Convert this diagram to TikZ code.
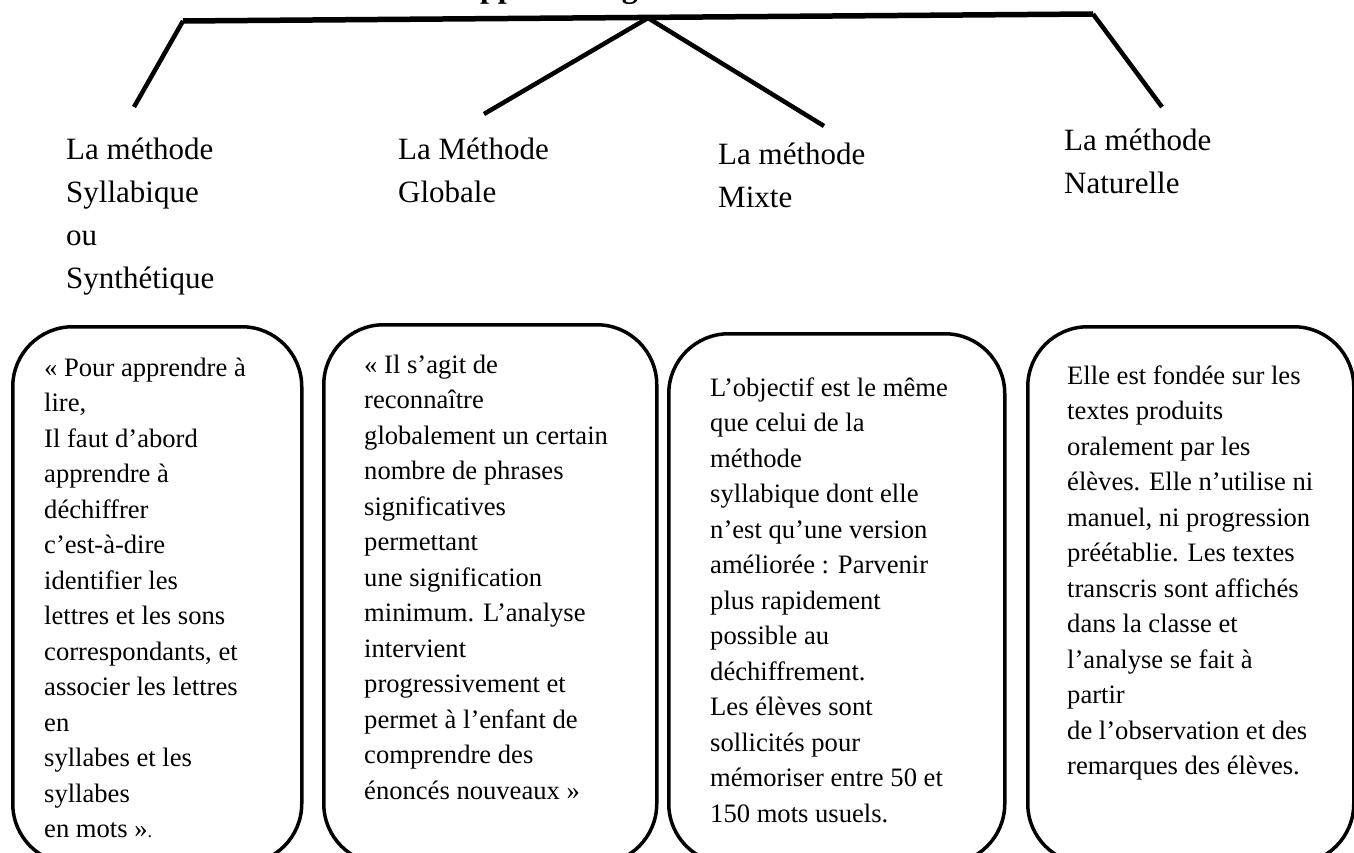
\documentclass[tikz,border=0pt]{standalone}
\usepackage{fontspec}
\setmainfont{Liberation Serif}[Ligatures=NoCommon]
\begin{document}
\begin{tikzpicture}[x=1pt,y=-1pt,
  branch/.style={line width=4.5pt},
  beam/.style={line width=5.5pt},
  card/.style={draw, line width=3.5pt, rounded corners=60pt, anchor=north west, inner sep=0pt},
  head/.style={anchor=north west, inner sep=0pt, align=left, font=\fontsize{31}{43}\selectfont},
  body/.style={anchor=north west, inner sep=0pt, align=left, font=\fontsize{26.6}{35.5}\selectfont},
]
\useasboundingbox (0,0) rectangle (1354,853);
\begin{scope}
\clip (0,0) rectangle (1354,853);

% title (only its lowest part falls inside the page)
\node[anchor=base west, inner sep=0pt, font=\bfseries\fontsize{32}{38}\selectfont] (title) at (464,-2) {apprentissage};

% tree: beam and its four branches
\coordinate (beamL) at (183,21);
\coordinate (beamR) at (1093,14);
\coordinate (apex)  at (648,18);
\coordinate (endA)  at (134,107);
\coordinate (endB)  at (484,114);
\coordinate (endC)  at (824,126);
\coordinate (endD)  at (1162,107);
\draw[beam] (beamL) -- (beamR);
\draw[branch] (beamL) -- (endA);
\draw[branch] (apex) -- (endB);
\draw[branch] (apex) -- (endC);
\draw[branch] (beamR) -- (endD);

% method names
\node[head] (h1) at (66,129)  {\strut La méthode\\Syllabique\\ou\\Synthétique};
\node[head] (h2) at (398,129) {\strut La Méthode\\Globale};
\node[head] (h3) at (718,134) {\strut La méthode\\Mixte};
\node[head] (h4) at (1064,120) {\strut La méthode\\Naturelle};

% rounded cards
\node[card, minimum width=289pt, minimum height=537pt] (c1) at (11,325) {};
\node[card, minimum width=333pt, minimum height=539pt] (c2) at (322,323) {};
\node[card, minimum width=336pt, minimum height=530pt] (c3) at (667,332) {};
\node[card, minimum width=326pt, minimum height=537pt] (c4) at (1026,325) {};

% card texts
\node[body] (t1) at (44,351.2) {\strut « Pour apprendre à\\lire,\\Il faut d’abord\\apprendre à\\déchiffrer\\c’est-à-dire\\identifier les\\lettres et les sons\\correspondants, et\\associer les lettres\\en\\syllabes et les\\syllabes\\en mots »{\fontsize{18}{20}\selectfont.}};
\node[body] (t2) at (364,348.2) {\strut « Il s’agit de\\reconnaître\\globalement un certain\\nombre de phrases\\significatives\\permettant\\une signification\\minimum. L’analyse\\intervient\\progressivement et\\permet à l’enfant de\\comprendre des\\énoncés nouveaux »};
\node[body] (t3) at (710,371.2) {\strut L’objectif est le même\\que celui de la\\méthode\\syllabique dont elle\\n’est qu’une version\\améliorée : Parvenir\\plus rapidement\\possible au\\déchiffrement.\\Les élèves sont\\sollicités pour\\mémoriser entre 50 et\\150 mots usuels.};
\node[body] (t4) at (1067,359.2) {\strut Elle est fondée sur les\\textes produits\\oralement par les\\élèves. Elle n’utilise ni\\manuel, ni progression\\préétablie. Les textes\\transcris sont affichés\\dans la classe et\\l’analyse se fait à\\partir\\de l’observation et des\\remarques des élèves.};
\end{scope}
\end{tikzpicture}
\end{document}
